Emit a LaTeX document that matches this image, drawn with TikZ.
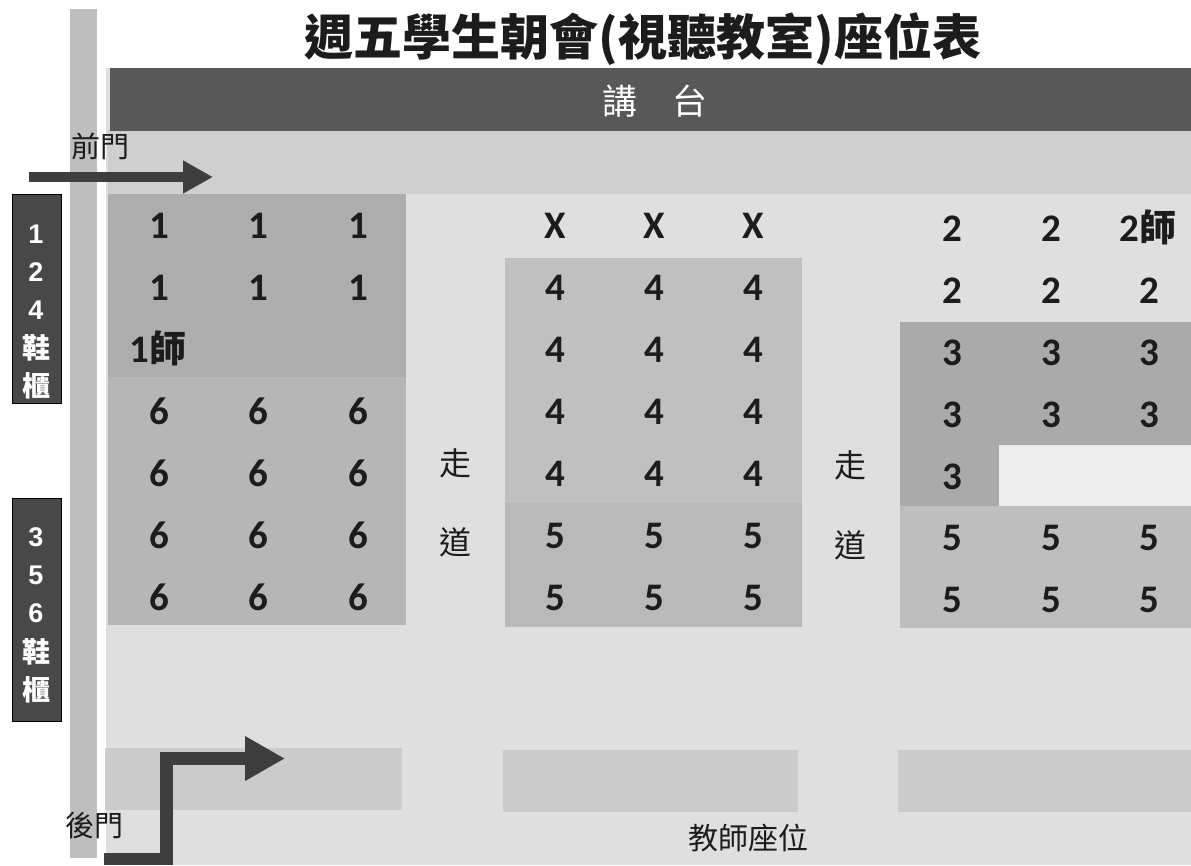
\documentclass[tikz,border=0pt]{standalone}
\usepackage{fontspec}
\newfontfamily\cjkf{Noto Sans CJK TC}
\newfontfamily\seatf{Carlito}
\newfontfamily\sidef{Liberation Sans}
\usetikzlibrary{arrows.meta}
\definecolor{roombg}{HTML}{DFDFDF}
\definecolor{frontstrip}{HTML}{CFCFCF}
\definecolor{podium}{HTML}{585858}
\definecolor{sidebar}{HTML}{BEBEBE}
\definecolor{blkA}{HTML}{ADADAD}
\definecolor{blkB}{HTML}{B6B6B6}
\definecolor{blkC}{HTML}{C0C0C0}
\definecolor{blkD}{HTML}{B9B9B9}
\definecolor{blkE}{HTML}{AAAAAA}
\definecolor{blkF}{HTML}{BEBEBE}
\definecolor{pale}{HTML}{ECECEC}
\definecolor{tbar}{HTML}{CBCBCB}
\definecolor{darkarrow}{HTML}{3E3E3E}
\definecolor{shoebox}{HTML}{484848}
\definecolor{ink}{HTML}{1C1C1C}
\newcommand{\seatfnt}{\seatf\bfseries\fontsize{39}{39}\selectfont}
\newcommand{\shi}{{\cjkf\bfseries\fontsize{37}{37}\selectfont 師}}
\begin{document}
\begin{tikzpicture}[x=1pt,y=-1pt,
  seatnum/.style={anchor=base, inner sep=0pt, text=ink, font=\seatfnt},
  aisle/.style={inner sep=0pt, text=ink, font=\cjkf\fontsize{32}{32}\selectfont},
  shoebx/.style={draw=black, line width=0.8pt, fill=shoebox, minimum width=49pt, inner sep=0pt},
  shoetxt/.style={inner sep=0pt, text=white},
  shoedig/.style={shoetxt, font=\sidef\bfseries\fontsize{27}{27}\selectfont},
  shoecjk/.style={shoetxt, font=\cjkf\bfseries\fontsize{28}{28}\selectfont},
  doorlbl/.style={inner sep=0pt, text=ink, font=\cjkf\fontsize{29}{29}\selectfont},
  doorarrow/.style={draw=darkarrow, line join=miter}
]
\useasboundingbox[fill=white] (0,0) rectangle (1191,865);
% walls and room
\fill[sidebar] (70,9) rectangle (97,858);
\fill[roombg] (106,68) rectangle (1191,865);
\fill[frontstrip] (108,130) rectangle (1191,194);
\fill[podium] (110,68) rectangle (1191,131);
% left block
\fill[blkA] (108,194) rectangle (406,377);
\fill[blkB] (108,377) rectangle (406,625);
% middle block
\fill[blkC] (505,258) rectangle (802,503);
\fill[blkD] (505,503) rectangle (802,627);
% right block
\fill[blkE] (900,322) rectangle (1191,445);
\fill[blkE] (900,445) rectangle (999,506);
\fill[pale] (999,445) rectangle (1191,506);
\fill[blkF] (900,506) rectangle (1191,628);
% teacher seat bars
\fill[tbar] (105,748) rectangle (402,810);
\fill[tbar] (503,750) rectangle (798,812);
\fill[tbar] (898,750) rectangle (1191,812);

% title and podium
\node[inner sep=0pt, text=ink, font=\cjkf\bfseries\fontsize{49}{49}\selectfont] (title) at (643,39) {週五學生朝會(視聽教室)座位表};
\node[inner sep=0pt, text=white, font=\cjkf\fontsize{35}{35}\selectfont] (podiumlbl) at (655,101) {講　台};

% shoe cabinets
\node[shoebx, minimum height=209pt] (shoeA) at (36.5,298.5) {};
\node[shoedig] (sa1) at (36,234) {1};
\node[shoedig] (sa2) at (36,272) {2};
\node[shoedig] (sa3) at (36,310) {4};
\node[shoecjk] (sa4) at (36,348) {鞋};
\node[shoecjk] (sa5) at (36,386) {櫃};
\node[shoebx, minimum height=223pt] (shoeB) at (36.5,609.5) {};
\node[shoedig] (sb1) at (36,537) {3};
\node[shoedig] (sb2) at (36,575) {5};
\node[shoedig] (sb3) at (36,613) {6};
\node[shoecjk] (sb4) at (36,652) {鞋};
\node[shoecjk] (sb5) at (36,690) {櫃};

% doors
\node[doorlbl] (frontdoor) at (100,146) {前門};
\node[doorlbl] (backdoor) at (94,826) {後門};
\coordinate (fdS) at (29,177);
\coordinate (fdE) at (213,177);
\draw[doorarrow, line width=10pt, -{Triangle[length=30pt,width=31pt]}] (fdS) -- (fdE);
\coordinate (bd0) at (104,859);
\coordinate (bd1) at (166.5,859);
\coordinate (bd2) at (166.5,758.5);
\coordinate (bd3) at (285,758.5);
\draw[doorarrow, line width=12.5pt, -{Triangle[length=40pt,width=42pt]}] (bd0) -- (bd1) -- (bd2) -- (bd3);

% aisles
\node[aisle] (aisleL1) at (455,463) {走};
\node[aisle] (aisleL2) at (455,542) {道};
\node[aisle] (aisleR1) at (850,465) {走};
\node[aisle] (aisleR2) at (850,545) {道};

% left block seats
\foreach \r/\y in {1/238,2/300}{
  \foreach \c/\x in {1/159,2/258,3/358}{
    \node[seatnum] (L\r\c) at (\x,\y) {1};
  }
}
\node[seatnum] (L31) at (158,362) {1\shi};
\foreach \r/\y in {4/424,5/486,6/548,7/610}{
  \foreach \c/\x in {1/159,2/258,3/358}{
    \node[seatnum] (L\r\c) at (\x,\y) {6};
  }
}
% middle block seats
\foreach \c/\x in {1/555,2/654,3/753}{
  \node[seatnum] (M1\c) at (\x,238) {X};
  \foreach \r/\y in {2/300,3/362,4/424,5/486}{
    \node[seatnum] (M\r\c) at (\x,\y) {4};
  }
  \foreach \r/\y in {6/548,7/610}{
    \node[seatnum] (M\r\c) at (\x,\y) {5};
  }
}
% right block seats
\node[seatnum] (R11) at (952,241) {2};
\node[seatnum] (R12) at (1051,241) {2};
\node[seatnum] (R13) at (1148,241) {2\shi};
\foreach \c/\x in {1/952,2/1051,3/1149}{
  \node[seatnum] (R2\c) at (\x,303) {2};
  \node[seatnum] (R3\c) at (\x,365) {3};
  \node[seatnum] (R4\c) at (\x,427) {3};
  \node[seatnum] (R6\c) at (\x,550) {5};
  \node[seatnum] (R7\c) at (\x,612) {5};
}
\node[seatnum] (R51) at (952,489) {3};

% teacher seats label
\node[inner sep=0pt, text=ink, font=\cjkf\fontsize{30}{30}\selectfont] (teacherlbl) at (748,838) {教師座位};
\end{tikzpicture}
\end{document}
